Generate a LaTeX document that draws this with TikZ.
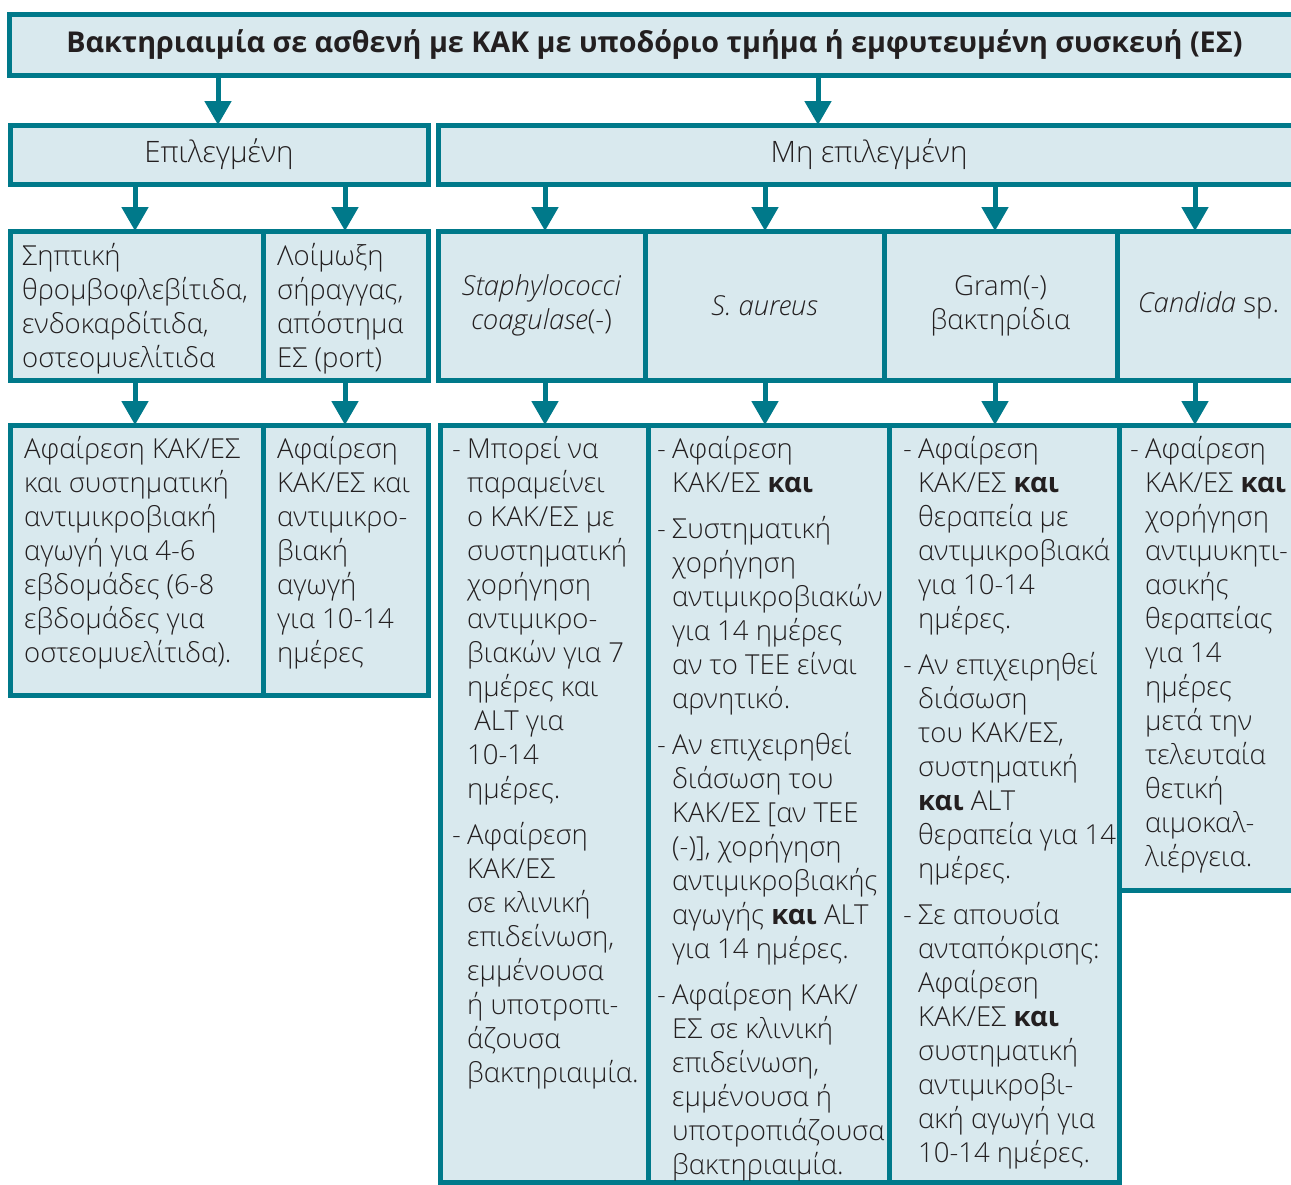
\documentclass[tikz,border=0pt]{standalone}
\usepackage{fontspec}
\setmainfont{Open Sans}[UprightFont={* Light}, ItalicFont={* Light Italic}, BoldFont={* Bold}]
\usetikzlibrary{positioning, calc, arrows.meta}
\definecolor{kakteal}{HTML}{00798A}
\definecolor{kakfill}{HTML}{D9E9EE}
\definecolor{kaktext}{HTML}{231F20}
\tikzset{
  box/.style={draw=kakteal, fill=kakfill, line width=5pt, anchor=north west,
    inner sep=0pt, outer sep=0pt, text=kaktext, align=center,
    font=\fontsize{27.5}{34}\selectfont},
  txt/.style={text=kaktext, align=left, inner sep=0pt, anchor=north west,
    font=\fontsize{27.5}{34}\selectfont},
  flow/.style={-{Triangle[length=24pt,width=26pt]}, draw=kakteal, line width=5pt},
}
\newcommand{\dsh}{\rule{0pt}{25pt}\makebox[15pt][l]{-}}
\newcommand{\ind}{\hspace*{15pt}}
\newcommand{\ftop}{\rule{0pt}{25pt}}

\begin{document}
\begin{tikzpicture}[x=1pt, y=-1pt]
        \useasboundingbox (0,0) rectangle (1291,1184);
        % nodes
        \node[box, minimum width=1290pt, minimum height=61pt, font=\fontsize{28.7}{34}\selectfont\bfseries] (title) at (9.5,14)
            {Βακτηριαιμία σε ασθενή με ΚΑΚ με υποδόριο τμήμα ή εμφυτευμένη συσκευή (ΕΣ)};
        \node[box, minimum width=418pt, minimum height=59pt, font=\fontsize{29.5}{34}\selectfont] (sel) at (10,125) {Επιλεγμένη};
        \node[box, minimum width=862pt, minimum height=59pt, font=\fontsize{29.5}{34}\selectfont] (nonsel) at (438,125) {Μη επιλεγμένη};
        % second row
        \node[box, minimum width=253pt, minimum height=149pt] (sep) at (10,231) {};
        \node[box, minimum width=165pt, minimum height=149pt] (loim) at (263,231) {};
        \node[box, minimum width=207pt, minimum height=149pt] (staph) at (438,231)
            {\textit{Staphylococci}\\\textit{coagulase}(-)};
        \node[box, minimum width=239pt, minimum height=149pt] (saur) at (645,231) {\textit{S. aureus}};
        \node[box, minimum width=233pt, minimum height=149pt] (gram) at (884,231) {Gram(-)\\βακτηρίδια};
        \node[box, minimum width=183pt, minimum height=149pt] (cand) at (1117,231) {\textit{Candida} sp.};
        \node[txt] (sep-t) at (22,240) {\ftop Σηπτική\\θρομβοφλεβίτιδα,\\ενδοκαρδίτιδα,\\οστεομυελίτιδα};
        \node[txt] (loim-t) at (277,240) {\ftop Λοίμωξη\\σήραγγας,\\απόστημα\\ΕΣ (port)};
        % third row
        \node[box, minimum width=253pt, minimum height=270pt] (l1) at (10,425) {};
        \node[box, minimum width=165pt, minimum height=270pt] (l2) at (263,425) {};
        \node[box, minimum width=208pt, minimum height=757pt] (r1) at (440,425) {};
        \node[box, minimum width=241pt, minimum height=757pt] (r2) at (648,425) {};
        \node[box, minimum width=230pt, minimum height=757pt] (r3) at (889,425) {};
        \node[box, minimum width=181pt, minimum height=465pt] (r4) at (1119,425) {};
        \node[txt] (l1-t) at (24,433) {\ftop Αφαίρεση ΚΑΚ/ΕΣ\\και συστηματική\\αντιμικροβιακή\\αγωγή για 4-6\\εβδομάδες (6-8\\εβδομάδες για\\οστεομυελίτιδα).};
        \node[txt] (l2-t) at (277,433) {\ftop Αφαίρεση\\ΚΑΚ/ΕΣ και\\αντιμικρο-\\βιακή\\αγωγή\\για 10-14\\ημέρες};
        \node[txt] (r1-t) at (452,433) {\dsh Μπορεί να\\\ind παραμείνει\\\ind ο ΚΑΚ/ΕΣ με\\\ind συστηματική\\\ind χορήγηση\\\ind αντιμικρο-\\\ind βιακών για 7\\\ind ημέρες και\\\ind\ ALT για\\\ind 10-14\\\ind ημέρες.\\[12pt]
            \dsh Αφαίρεση\\\ind ΚΑΚ/ΕΣ\\\ind σε κλινική\\\ind επιδείνωση,\\\ind εμμένουσα\\\ind ή υποτροπι-\\\ind άζουσα\\\ind βακτηριαιμία.};
        \node[txt] (r2-t) at (657,433) {\dsh Αφαίρεση\\\ind ΚΑΚ/ΕΣ \textbf{και}\\[12pt]
            \dsh Συστηματική\\\ind χορήγηση\\\ind αντιμικροβιακών\\\ind για 14 ημέρες\\\ind αν το ΤΕΕ είναι\\\ind αρνητικό.\\[12pt]
            \dsh Αν επιχειρηθεί\\\ind διάσωση του\\\ind ΚΑΚ/ΕΣ [αν ΤΕΕ\\\ind (-)], χορήγηση\\\ind αντιμικροβιακής\\\ind αγωγής \textbf{και} ALT\\\ind για 14 ημέρες.\\[12pt]
            \dsh Αφαίρεση ΚΑΚ/\\\ind ΕΣ σε κλινική\\\ind επιδείνωση,\\\ind εμμένουσα ή\\\ind υποτροπιάζουσα\\\ind βακτηριαιμία.};
        \node[txt] (r3-t) at (903,433) {\dsh Αφαίρεση\\\ind ΚΑΚ/ΕΣ \textbf{και}\\\ind θεραπεία με\\\ind αντιμικροβιακά\\\ind για 10-14\\\ind ημέρες.\\[12pt]
            \dsh Αν επιχειρηθεί\\\ind διάσωση\\\ind του ΚΑΚ/ΕΣ,\\\ind συστηματική\\\ind \textbf{και} ALT\\\ind θεραπεία για 14\\\ind ημέρες.\\[12pt]
            \dsh Σε απουσία\\\ind ανταπόκρισης:\\\ind Αφαίρεση\\\ind ΚΑΚ/ΕΣ \textbf{και}\\\ind συστηματική\\\ind αντιμικροβι-\\\ind ακή αγωγή για\\\ind 10-14 ημέρες.};
        \node[txt] (r4-t) at (1130,433) {\dsh Αφαίρεση\\\ind ΚΑΚ/ΕΣ \textbf{και}\\\ind χορήγηση\\\ind αντιμυκητι-\\\ind ασικής\\\ind θεραπείας\\\ind για 14\\\ind ημέρες\\\ind μετά την\\\ind τελευταία\\\ind θετική\\\ind αιμοκαλ-\\\ind λιέργεια.};
        % arrow columns
        \coordinate (a0) at (218,0);
        \coordinate (b0) at (818,0);
        \coordinate (a1) at (135,0);
        \coordinate (a2) at (345,0);
        \coordinate (b1) at (545,0);
        \coordinate (b2) at (765,0);
        \coordinate (b3) at (995,0);
        \coordinate (b4) at (1195,0);
        % arrows
        \draw[flow] (title.south -| a0) -- (sel.north -| a0);
        \draw[flow] (title.south -| b0) -- (nonsel.north -| b0);
        \draw[flow] (sel.south -| a1) -- (sep.north -| a1);
        \draw[flow] (sel.south -| a2) -- (loim.north -| a2);
        \draw[flow] (nonsel.south -| b1) -- (staph.north -| b1);
        \draw[flow] (nonsel.south -| b2) -- (saur.north -| b2);
        \draw[flow] (nonsel.south -| b3) -- (gram.north -| b3);
        \draw[flow] (nonsel.south -| b4) -- (cand.north -| b4);
        \draw[flow] (sep.south -| a1) -- (l1.north -| a1);
        \draw[flow] (loim.south -| a2) -- (l2.north -| a2);
        \draw[flow] (staph.south -| b1) -- (r1.north -| b1);
        \draw[flow] (saur.south -| b2) -- (r2.north -| b2);
        \draw[flow] (gram.south -| b3) -- (r3.north -| b3);
        \draw[flow] (cand.south -| b4) -- (r4.north -| b4);
\end{tikzpicture}
\end{document}
